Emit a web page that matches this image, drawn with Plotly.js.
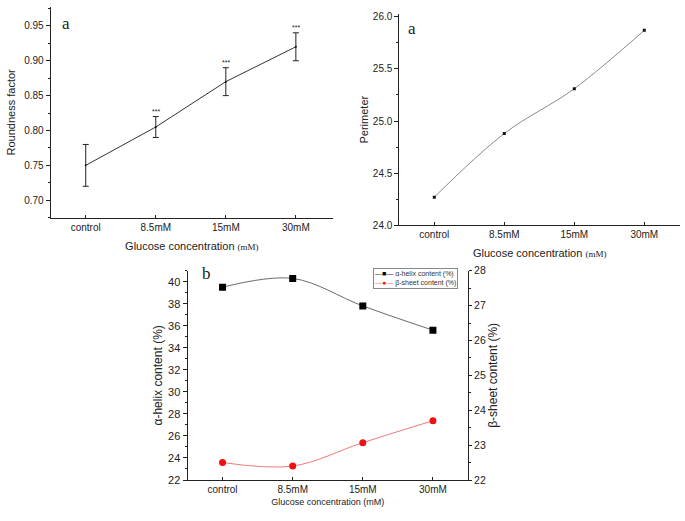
<!DOCTYPE html>
<html><head><meta charset="utf-8">
<script src="https://cdn.plot.ly/plotly-3.0.1.min.js"></script>
<style>html,body{margin:0;padding:0;background:#fff}</style>
</head><body><div id="chart" style="width:685px;height:521px"></div>
<script>
const categories = ['control', '8.5mM', '15mM', '30mM'];
const roundness = [0.75, 0.805, 0.87, 0.92];
const roundnessErr = [0.03, 0.015, 0.02, 0.02];
const significance = ['', '***', '***', '***'];
const perimeter = [24.27, 24.88, 25.31, 25.87];
const alphaHelix = [39.5, 40.3, 37.8, 35.6];
const betaSheet = [22.5, 22.4, 23.07, 23.7];
const seriesNames = ['α-helix content (%)', 'β-sheet content (%)'];

const W = 685, H = 521;
const px = v => v / W;
const py = v => 1 - v / H;

const sans = 'Liberation Sans, Arial, sans-serif';
const serif = 'Liberation Serif, Times New Roman, serif';
const ink = '#222';
const alphaLine = '#6a6a6a', betaLine = '#f07a7a', betaMarker = '#ee1111';
const mm = "<span style='font-family:Liberation Serif;font-size:9px'>(mM)</span>";

const traces = [
  {x: categories, y: roundness, xaxis: 'x', yaxis: 'y', mode: 'lines+markers', name: 'Roundness factor',
   line: {color: '#333', width: 1}, marker: {color: '#111', size: 2},
   error_y: {type: 'data', array: roundnessErr, visible: true, color: ink, thickness: 1, width: 3},
   showlegend: false},
  {x: categories, y: perimeter, xaxis: 'x2', yaxis: 'y2', mode: 'lines+markers', name: 'Perimeter',
   line: {color: '#8a8a8a', width: 1, shape: 'spline'}, marker: {color: '#111', size: 3, symbol: 'square'},
   showlegend: false},
  {x: categories, y: alphaHelix, xaxis: 'x3', yaxis: 'y3', mode: 'lines+markers', name: seriesNames[0],
   line: {color: alphaLine, width: 1, shape: 'spline'}, marker: {color: '#000', size: 7, symbol: 'square'},
   showlegend: false},
  {x: categories, y: betaSheet, xaxis: 'x3', yaxis: 'y4', mode: 'lines+markers', name: seriesNames[1],
   line: {color: betaLine, width: 1, shape: 'spline'}, marker: {color: betaMarker, size: 7, symbol: 'circle'},
   showlegend: false}
];

function axisBase(extra) {
  return Object.assign({
    showline: true, linecolor: ink, linewidth: 1, showgrid: false, zeroline: false,
    ticks: 'outside', ticklen: 4, tickcolor: ink, tickwidth: 1,
    tickfont: {family: sans, size: 10, color: ink}
  }, extra);
}

const starAnn = significance.map((s, i) => s ? {
  x: categories[i], y: roundness[i] + roundnessErr[i], xref: 'x', yref: 'y', text: s,
  showarrow: false, yanchor: 'bottom', yshift: 0, font: {family: sans, size: 7, color: ink}
} : null).filter(Boolean);

const legendText =
  "<span style='color:#333'>—</span><span style='color:#000'>■</span><span style='color:#333'>—</span> " + seriesNames[0] +
  "<br><span style='color:" + betaLine + "'>—</span><span style='color:" + betaMarker + "'>●</span><span style='color:" + betaLine + "'>—</span> " + seriesNames[1];

const layout = {
  width: W, height: H, margin: {l: 0, r: 0, t: 0, b: 0},
  paper_bgcolor: '#fff', plot_bgcolor: 'rgba(0,0,0,0)',
  showlegend: false,
  xaxis: axisBase({domain: [px(50.7), px(333)], anchor: 'y', type: 'category', range: [-0.5, 3.53],
    ticks: 'inside', ticklen: 3,
    title: {text: 'Glucose concentration ' + mm, font: {family: sans, size: 11, color: ink}, standoff: 10}}),
  yaxis: axisBase({domain: [py(217.7), py(7)], anchor: 'x', range: [0.675, 0.977],
    tick0: 0.7, dtick: 0.05, tickformat: '.2f',
    minor: {ticks: 'outside', ticklen: 2, tick0: 0.7, dtick: 0.025, tickcolor: ink},
    title: {text: 'Roundness factor', font: {family: sans, size: 11, color: ink}, standoff: 6}}),
  xaxis2: axisBase({domain: [px(399.3), px(680)], anchor: 'y2', type: 'category', range: [-0.5, 3.51],
    ticks: 'inside', ticklen: 3,
    minor: {ticks: 'inside', ticklen: 2, tick0: -0.5, dtick: 1, tickcolor: ink},
    title: {text: 'Glucose concentration ' + mm, font: {family: sans, size: 11, color: ink}, standoff: 10}}),
  yaxis2: axisBase({domain: [py(225.3), py(14)], anchor: 'x2', range: [24.0, 26.026],
    tick0: 24, dtick: 0.5, tickformat: '.1f',
    minor: {ticks: 'outside', ticklen: 2, tick0: 24, dtick: 0.25, tickcolor: ink},
    title: {text: 'Perimeter', font: {family: sans, size: 11, color: ink}, standoff: 1}}),
  xaxis3: axisBase({domain: [px(187.5), px(468)], anchor: 'y3', type: 'category', range: [-0.5, 3.5],
    ticks: 'inside', ticklen: 3,
    minor: {ticks: 'inside', ticklen: 2, tick0: -0.5, dtick: 1, tickcolor: ink},
    tickfont: {family: sans, size: 10, color: ink},
    title: {text: 'Glucose concentration (mM)', font: {family: sans, size: 9, color: ink}, standoff: 4}}),
  yaxis3: axisBase({domain: [py(480), py(270.7)], anchor: 'x3', range: [22, 41],
    tick0: 22, dtick: 2,
    minor: {ticks: 'outside', ticklen: 2, tick0: 22, dtick: 1, tickcolor: ink},
    tickfont: {family: sans, size: 11, color: ink},
    title: {text: 'α-helix content (%)', font: {family: sans, size: 12, color: ink}, standoff: 2}}),
  yaxis4: axisBase({overlaying: 'y3', side: 'right', anchor: 'x3', range: [22, 28],
    tick0: 22, dtick: 1, ticklen: 3,
    minor: {ticks: 'outside', ticklen: 2, tick0: 22, dtick: 0.5, tickcolor: ink},
    tickfont: {family: sans, size: 10.5, color: ink},
    title: {text: 'β-sheet content (%)', font: {family: sans, size: 12, color: ink}, standoff: 0}}),
  annotations: starAnn.concat([
    {x: px(60), y: py(12), xref: 'paper', yref: 'paper', text: 'a', showarrow: false,
     font: {family: serif, size: 17, color: ink}},
    {x: px(411.7), y: py(17), xref: 'paper', yref: 'paper', text: 'a', showarrow: false,
     font: {family: serif, size: 17, color: ink}},
    {x: px(200), y: py(273), xref: 'paper', yref: 'paper', text: 'b', showarrow: false,
     font: {family: serif, size: 17, color: ink}},
    {x: px(373), y: py(268), xref: 'paper', yref: 'paper', xanchor: 'left', yanchor: 'top',
     text: legendText, align: 'left', showarrow: false,
     bordercolor: '#888', borderwidth: 1, borderpad: 1, bgcolor: '#fff',
     font: {family: sans, size: 7, color: '#333'}}
  ])
};

Plotly.newPlot('chart', traces, layout, {displayModeBar: false, staticPlot: true});
</script></body></html>
